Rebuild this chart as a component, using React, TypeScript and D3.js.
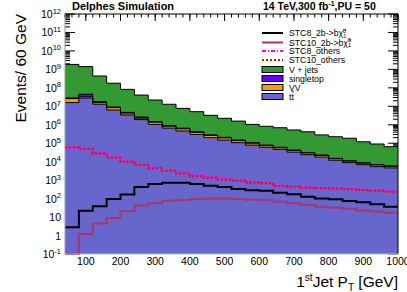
import React from 'react';
import * as d3 from 'd3';

// bin low edges (40 GeV wide bins, 40..1000)
const binLow = [40, 80, 120, 160, 200, 240, 280, 320, 360, 400, 440, 480, 520, 560, 600, 640, 680, 720, 760, 800, 840, 880, 920, 960];
const binWidth = 40;

// backgrounds (stacked: ttbar, VV, singletop, V+jets)
const ttbar = [1.6e7, 2.8e7, 1.3e7, 6.3e6, 3.4e6, 1.9e6, 1.05e6, 6.6e5, 4.6e5, 3.0e5, 2.0e5, 1.48e5, 1.07e5, 7.9e4, 6.0e4, 4.6e4, 3.3e4, 2.4e4, 1.78e4, 1.2e4, 8.9e3, 6.9e3, 5.4e3, 4.6e3];
const vv = [1.0e7, 5e6, 2.9e6, 2.2e6, 8.8e5, 3.9e5, 3.3e5, 1.7e5, 1.45e5, 9e4, 6.3e4, 4.7e4, 3.1e4, 2.1e4, 1.4e4, 1.05e4, 7.7e3, 5.5e3, 4.1e3, 2.5e3, 1.8e3, 1.4e3, 1.2e3, 1.0e3];
const singletop = [2.5e6, 1.2e7, 2.0e6, 6e5, 4.1e5, 3.4e5, 1.0e5, 6e4, 4.6e4, 2.7e4, 1.9e4, 1.4e4, 1.0e4, 7e3, 5e3, 4e3, 2e3, 1.4e3, 1e3, 6e2, 5e2, 4e2, 3e2, 3e2];
const vjets = [1.83e9, 1.37e9, 4.2e8, 1.69e8, 7.8e7, 3.8e7, 2.04e7, 1.2e7, 7.1e6, 4.7e6, 2.96e6, 2.03e6, 1.43e6, 9.4e5, 7.5e5, 6.3e5, 4.8e5, 3.86e5, 2.6e5, 2.1e5, 1.75e5, 1.11e5, 8.4e4, 5.9e4];

// signals
const stc8 = [2.8, 22, 38, 95, 165, 420, 620, 720, 720, 620, 500, 430, 330, 285, 265, 210, 170, 126, 102, 91, 74, 63, 49, 36];
const stc10 = [0.1, 1.2, 4.5, 9, 21, 42, 56, 77, 83, 95, 100, 100, 95, 88, 83, 68, 56, 45, 36, 32, 28, 23, 20, 17];
const stc8Others = [55000, 47000, 30000, 18000, 10500, 7000, 4700, 3500, 2500, 1850, 1500, 1200, 1000, 800, 720, 520, 470, 420, 380, 360, 330, 300, 280, 245];
const stc10Others = [60000, 50000, 28000, 17000, 10000, 6600, 4400, 3200, 2300, 1650, 1350, 1100, 930, 720, 680, 480, 440, 390, 360, 350, 320, 295, 270, 235];

const xTicks = [100, 200, 300, 400, 500, 600, 700, 800, 900, 1000];
const yExponents = [-1, 0, 1, 2, 3, 4, 5, 6, 7, 8, 9, 10, 11, 12];

const left = 65, right = 398, top = 14, bottom = 254;
const font = 'Liberation Sans, Arial, Helvetica, sans-serif';

const x = d3.scaleLinear().domain([40, 1000]).range([left, right]);
const y = d3.scaleLog().domain([0.1, 1e12]).range([bottom, top]).clamp(true);

// points for a step histogram: (low edge, value) + closing edge
function stepPts(vals: number[]) {
  const pts: [number, number][] = binLow.map((b, i) => [b, vals[i]]);
  pts.push([binLow[binLow.length - 1] + binWidth, vals[vals.length - 1]]);
  return pts;
}

const stepLine = d3.line<[number, number]>()
  .x(d => x(d[0]))
  .y(d => y(Math.max(d[1], 0.1)))
  .curve(d3.curveStepAfter);

const stepArea = d3.area<[number, number]>()
  .x(d => x(d[0]))
  .y0(bottom)
  .y1(d => y(Math.max(d[1], 0.1)))
  .curve(d3.curveStepAfter);

const rows = binLow.map((b, i) => ({ ttbar: ttbar[i], vv: vv[i], singletop: singletop[i], vjets: vjets[i] }));
const stacked = d3.stack<any>().keys(['ttbar', 'vv', 'singletop', 'vjets'])(rows);
const colors: Record<string, string> = { ttbar: '#6666cc', vv: '#ff9900', singletop: '#6600ff', vjets: '#339933' };

const App = () => {
  const layers = stacked.map(s => ({ key: s.key, pts: stepPts(s.map(d => d[1])) })).reverse();

  const minorY: number[] = [];
  yExponents.slice(0, -1).forEach(e => {
    for (let k = 2; k <= 9; k++) minorY.push(k * Math.pow(10, e));
  });
  const minorX = d3.range(40, 1001, 20);

  const legendX = 262, legendText = 289;
  const legendLines = [
    { y: 33, color: '#000', dash: '', w: 2 },
    { y: 42.5, color: '#a8356b', dash: '', w: 2 },
    { y: 51, color: '#ff00ff', dash: '4,2,1,2', w: 2 },
    { y: 60, color: '#ff0000', dash: '2,2', w: 2 },
  ];
  const legendBoxes = [
    { y: 69.5, color: colors.vjets, label: 'V + jets' },
    { y: 78.5, color: colors.singletop, label: 'singletop' },
    { y: 87.5, color: colors.vv, label: 'VV' },
  ];

  return (
    <svg width={407} height={292} style={{ display: 'block', position: 'absolute', left: 0, top: 0 }} fontFamily={font}>
      <rect width={407} height={292} fill="#fff" />
      {/* axis ticks (drawn under the histograms like ROOT) */}
      <g stroke="#000" strokeWidth={1}>
        {yExponents.map(e => (
          <g key={'my' + e}>
            <line x1={left} x2={left + 10} y1={y(Math.pow(10, e))} y2={y(Math.pow(10, e))} />
            <line x1={right} x2={right - 10} y1={y(Math.pow(10, e))} y2={y(Math.pow(10, e))} />
          </g>
        ))}
        {minorY.map((v, i) => (
          <g key={'ny' + i}>
            <line x1={left} x2={left + 5} y1={y(v)} y2={y(v)} />
            <line x1={right} x2={right - 5} y1={y(v)} y2={y(v)} />
          </g>
        ))}
        {xTicks.map(t => (
          <line key={'mx' + t} x1={x(t)} x2={x(t)} y1={top} y2={top + 7} />
        ))}
        {minorX.map(t => (
          <line key={'nx' + t} x1={x(t)} x2={x(t)} y1={top} y2={top + 3.5} />
        ))}
      </g>

      {/* stacked backgrounds */}
      {layers.map(l => (
        <g key={l.key}>
          <path d={stepArea(l.pts) || ''} fill={colors[l.key]} />
          <path d={stepLine(l.pts) || ''} fill="none" stroke="#000" strokeWidth={1} />
        </g>
      ))}

      {/* signals */}
      <path d={stepLine(stepPts(stc10)) || ''} fill="none" stroke="#a8356b" strokeWidth={2} />
      <path d={stepLine(stepPts(stc8)) || ''} fill="none" stroke="#000" strokeWidth={2} />
      <path d={stepLine(stepPts(stc8Others)) || ''} fill="none" stroke="#ff00ff" strokeWidth={2} strokeDasharray="4,2,1,2" />
      <path d={stepLine(stepPts(stc10Others)) || ''} fill="none" stroke="#ff0000" strokeWidth={2} strokeDasharray="2,2" />

      {/* frame */}
      <line x1={left} x2={right} y1={top} y2={top} stroke="#000" />
      <line x1={right} x2={right} y1={top} y2={bottom} stroke="#000" />
      <line x1={left} x2={left} y1={top} y2={bottom} stroke="#999" />
      <line x1={left} x2={right} y1={bottom} y2={bottom} stroke="#bbb" />

      {/* y tick labels */}
      <g fontSize={10.5} textAnchor="end">
        {yExponents.map(e => {
          const yy = y(Math.pow(10, e)) + 4;
          if (e === 0) return <text key={e} x={61} y={yy}>1</text>;
          if (e === 1) return <text key={e} x={61} y={yy}>10</text>;
          return (
            <text key={e} x={61} y={yy}>
              10<tspan dy={-4.5} fontSize={7.5}>{e}</tspan>
            </text>
          );
        })}
      </g>

      {/* x tick labels */}
      <g fontSize={10.5} textAnchor="middle">
        {xTicks.map(t => (
          <text key={t} x={x(t)} y={265}>{t}</text>
        ))}
      </g>

      {/* axis titles */}
      <text transform="translate(26,14) rotate(-90)" textAnchor="end" fontSize={15.5}>Events/ 60 GeV</text>
      <text x={398} y={287} textAnchor="end" fontSize={15.5}>
        1<tspan dy={-6} fontSize={10}>st</tspan><tspan dy={6}>Jet P</tspan><tspan dy={4} fontSize={10}>T</tspan><tspan dy={-4}> [GeV]</tspan>
      </text>

      {/* titles */}
      <text x={72} y={10} fontSize={11} fontWeight="bold">Delphes Simulation</text>
      <text x={263} y={10} fontSize={10.5} fontWeight="bold">
        14 TeV,300 fb<tspan dy={-4} fontSize={7}>-1</tspan><tspan dy={4}>,PU = 50</tspan>
      </text>

      {/* legend */}
      {legendLines.map((l, i) => (
        <line key={'ll' + i} x1={legendX} x2={legendX + 21} y1={l.y} y2={l.y} stroke={l.color} strokeWidth={l.w} strokeDasharray={l.dash || undefined} />
      ))}
      {legendBoxes.map(b => (
        <rect key={b.label} x={legendX} y={b.y - 3} width={21} height={6} fill={b.color} stroke="#000" strokeWidth={1} />
      ))}
      <rect x={legendX} y={96.5 - 3} width={21} height={6} fill={colors.ttbar} stroke="#000" strokeWidth={1} />
      <g fontSize={8.7}>
        <text x={legendText} y={36}>
          STC8_2b-&gt;b{'\u03C7\u0303'}<tspan dy={-3.5} fontSize={5.5}>0</tspan><tspan dx={-3} dy={5} fontSize={5.5}>1</tspan>
        </text>
        <text x={legendText} y={45.5}>
          STC10_2b-&gt;b{'\u03C7\u0303'}<tspan dy={-3.5} fontSize={5.5}>0</tspan><tspan dx={-3} dy={5} fontSize={5.5}>1</tspan>
        </text>
        <text x={legendText} y={54}>STC8_others</text>
        <text x={legendText} y={63}>STC10_others</text>
        {legendBoxes.map(b => (
          <text key={'t' + b.label} x={legendText} y={b.y + 3}>{b.label}</text>
        ))}
        <text x={legendText} y={99.5}>tt</text>
      </g>
      <line x1={legendText + 2.5} x2={legendText + 4.9} y1={91.8} y2={91.8} stroke="#000" strokeWidth={0.8} />
    </svg>
  );
};

export default App;
